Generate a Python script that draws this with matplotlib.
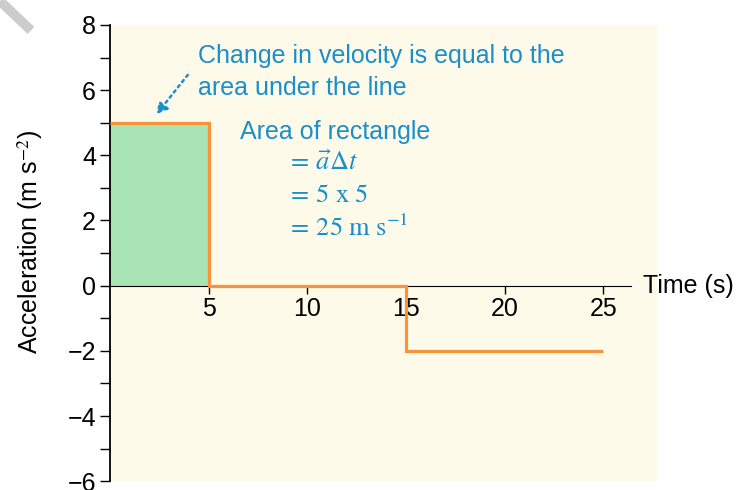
import matplotlib.pyplot as plt
from matplotlib.lines import Line2D
from matplotlib.ticker import MultipleLocator

plt.rcParams['font.family'] = ['Liberation Sans', 'DejaVu Sans']
plt.rcParams['mathtext.fontset'] = 'stix'

# step graph data
edges = [0, 5, 15, 25]
accel = [5, 0, -2]
xticks = [5, 10, 15, 20, 25]
yticks = [-6, -4, -2, 0, 2, 4, 6, 8]

blue = '#1a8fc9'
orange = '#f7943b'

fig = plt.figure(figsize=(7.37, 4.9), dpi=100)
ax = fig.add_axes([0.149, 0.018, 0.742, 0.931])
ax.set_facecolor('#fefae9')

ax.fill_between([edges[0], edges[1]], 0, accel[0], color='#a8e4b4', lw=0, zorder=1)
ax.stairs(accel, edges, baseline=None, color=orange, lw=2.3, zorder=3)

ax.set_xlim(0, 27.7)
ax.set_ylim(-6, 8)

ax.spines['top'].set_visible(False)
ax.spines['right'].set_visible(False)
ax.spines['bottom'].set_position(('data', 0))
ax.spines['bottom'].set_bounds(0, 26.4)
ax.spines['bottom'].set_zorder(2)
ax.spines['left'].set_linewidth(1.3)

ax.set_xticks(xticks)
ax.set_yticks(yticks)
ax.yaxis.set_minor_locator(MultipleLocator(1))
ax.tick_params(axis='y', which='both', length=7, width=1, labelsize=18, pad=3)
ax.tick_params(axis='x', length=6, width=1, labelsize=18, pad=2)
ax.set_yticklabels([str(v).replace('-', '\u2212') for v in yticks])

ax.set_ylabel('Acceleration (m s$^{-2}$)', fontsize=18)
ax.yaxis.set_label_coords(-0.118, 0.525)

ax.text(27.0, 0, 'Time (s)', fontsize=18, ha='left', va='center', clip_on=False)

ax.text(4.45, 7.42, 'Change in velocity is equal to the\narea under the line',
        fontsize=18, color=blue, ha='left', va='top', linespacing=1.42)
ax.annotate('', xy=(2.38, 5.27), xytext=(3.95, 6.47),
            arrowprops=dict(arrowstyle='-|>,head_length=0.6,head_width=0.35',
                            color=blue, lw=1.8, linestyle=':',
                            shrinkA=0, shrinkB=0))

ax.text(6.6, 4.72, 'Area of rectangle', fontsize=18, color=blue, ha='left', va='center')
ax.text(9.0, 3.78, r'$=\,\vec{a}\Delta t$', fontsize=19, color=blue, ha='left', va='center')
ax.text(9.0, 2.78, r'$=\,5\ \mathrm{x}\ 5$', fontsize=19, color=blue, ha='left', va='center')
ax.text(9.0, 1.78, r'$=\,25\ \mathrm{m\ s}^{-1}$', fontsize=19, color=blue, ha='left', va='center')

# grey corner mark
fig.add_artist(Line2D([0.0, 0.042], [0.998, 0.938], color='#cccccc', lw=7, solid_capstyle='butt'))

fig.savefig('out.png', dpi=100)
